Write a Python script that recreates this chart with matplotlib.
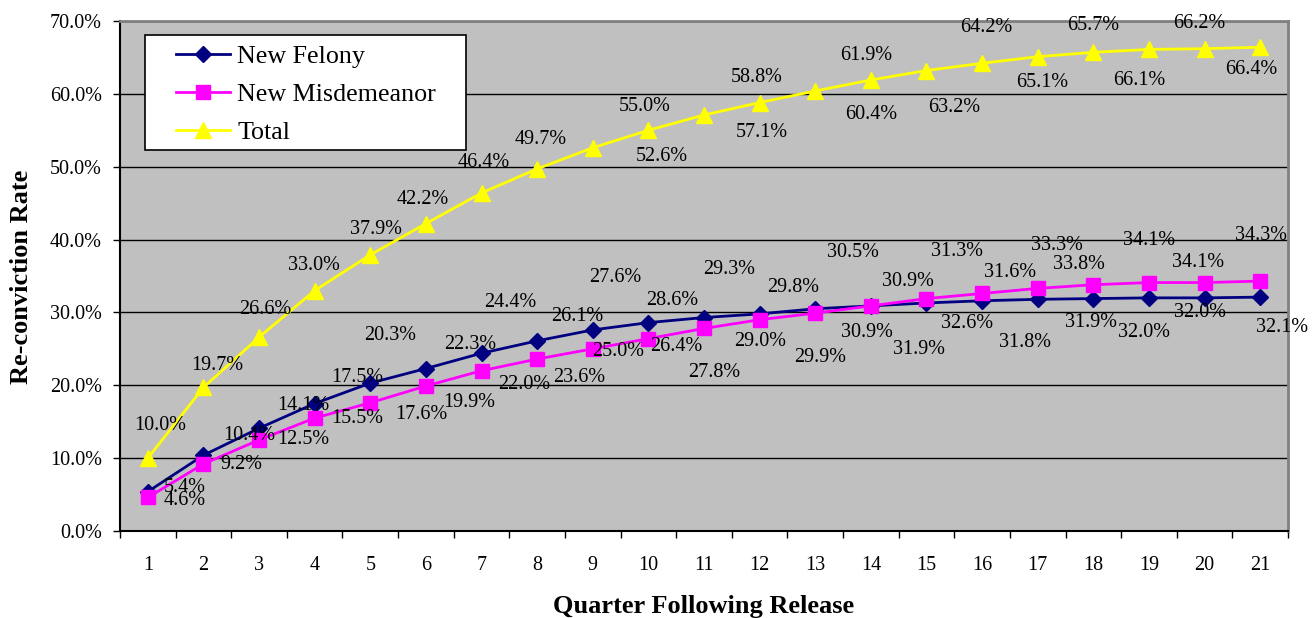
import matplotlib
matplotlib.use("Agg")
import matplotlib.pyplot as plt
from matplotlib.patches import Rectangle
from matplotlib.ticker import FixedLocator
from matplotlib.lines import Line2D

# ---------------- data ----------------
quarters = list(range(1, 22))
felony = [5.4, 10.4, 14.1, 17.5, 20.3, 22.3, 24.4, 26.1, 27.6, 28.6, 29.3,
          29.8, 30.5, 30.9, 31.3, 31.6, 31.8, 31.9, 32.0, 32.0, 32.1]
misdemeanor = [4.6, 9.2, 12.5, 15.5, 17.6, 19.9, 22.0, 23.6, 25.0, 26.4, 27.8,
               29.0, 29.9, 30.9, 31.9, 32.6, 33.3, 33.8, 34.1, 34.1, 34.3]
total = [10.0, 19.7, 26.6, 33.0, 37.9, 42.2, 46.4, 49.7, 52.6, 55.0, 57.1,
         58.8, 60.4, 61.9, 63.2, 64.2, 65.1, 65.7, 66.1, 66.2, 66.4]
series_names = ["New Felony", "New Misdemeanor", "Total"]
y_tick_values = [0, 10, 20, 30, 40, 50, 60, 70]
x_title = "Quarter Following Release"
y_title = "Re-conviction Rate"

# ---------------- label placement (pixels: right, down) ----------------
felony_offsets = [(37, -4), (46, -20), (44, -23), (43, -26), (20, -48), (44, -24),
                  (29, -51), (40, -24), (22, -52), (24, -22), (25, -48), (34, -26),
                  (38, -56), (37, -24), (31, -51), (28, -28), (-13, 43), (-2, 24),
                  (-5, 35), (-5, 15), (22, 30)]
misd_offsets = [(37, 3), (38, 1), (44, 0), (43, 0), (51, 12), (43, 16),
                (43, 14), (42, 18), (25, 3), (28, 8), (10, 44), (1, 22),
                (5, 44), (-4, 27), (-7, 51), (-15, 30), (19, -43), (-14, -20),
                (0, -42), (-7, -20), (1, -46)]
total_offsets = [(12, -33), (14, -22), (6, -28), (-1, -25), (6, -25), (-3, -24),
                 (2, -30), (4, -29), (69, 9), (-4, -24), (58, 18), (-3, -25),
                 (56, 24), (-5, -25), (28, 37), (4, -36), (4, 26), (0, -27),
                 (-10, 31), (-5, -25), (-9, 22)]

W, H = 1312, 618
FONT = "Liberation Serif"
plt.rcParams["font.family"] = [FONT, "DejaVu Serif"]

fig = plt.figure(figsize=(W / 100, H / 100), dpi=100)
fig.patch.set_facecolor("white")
ax = fig.add_axes([120 / W, 1 - 531 / H, (1288 - 120) / W, (531 - 21) / H])
ax.set_facecolor("#C0C0C0")

styles = [
    dict(color="#000080", marker="D", markersize=8.2),
    dict(color="#FF00FF", marker="s", markersize=10.5),
    dict(color="#FFFF00", marker="^", markersize=11),
]
series = [felony, misdemeanor, total]
offsets = [felony_offsets, misd_offsets, total_offsets]

for vals, st, name in zip(series, styles, series_names):
    ax.plot(quarters, vals, color=st["color"], lw=2, marker=st["marker"],
            markersize=st["markersize"], markerfacecolor=st["color"],
            markeredgecolor=st["color"], label=name, zorder=3, clip_on=False)

for vals, offs in zip(series, offsets):
    for q, v, (dx, dy) in zip(quarters, vals, offs):
        ax.annotate(f"{v:.1f}%", (q, v), xytext=(dx, -dy),
                    textcoords="offset pixels", ha="center", va="center",
                    fontsize=14.5, color="black", zorder=10,
                    annotation_clip=False)

ax.set_xlim(0.5, 21.5)
ax.set_ylim(0, 70)
ax.set_yticks(y_tick_values)
ax.set_yticklabels([f"{v:.1f}%" for v in y_tick_values])
ax.set_xticks(quarters)
ax.set_xticklabels([str(q) for q in quarters])
ax.xaxis.set_minor_locator(FixedLocator([q - 0.5 for q in quarters] + [21.5]))
ax.tick_params(axis="x", which="major", length=0, pad=18, labelsize=14.5)
ax.tick_params(axis="x", which="minor", length=5, width=1, direction="out",
               color="black")
ax.tick_params(axis="y", which="major", length=5, width=1, direction="out",
               pad=8, labelsize=14.5, color="black")
ax.yaxis.grid(True, color="black", lw=1)
ax.set_axisbelow(True)

for s in ["left", "bottom"]:
    ax.spines[s].set_color("black")
    ax.spines[s].set_linewidth(1.5)
for s in ["top", "right"]:
    ax.spines[s].set_color("#808080")
    ax.spines[s].set_linewidth(2)

fig.text(22 / W, 1 - 277 / H, y_title, rotation=90, ha="center", va="center",
         fontsize=19, fontweight="bold")
fig.text(704 / W, 1 - 613 / H, x_title, ha="center", va="baseline",
         fontsize=19, fontweight="bold")

# legend
frame = Rectangle((145 / W, 1 - 150 / H), 321 / W, 115 / H,
                  transform=fig.transFigure, facecolor="white",
                  edgecolor="black", lw=1.2, zorder=5)
fig.add_artist(frame)
leg_handles = [Line2D([], [], color=st["color"], lw=2, marker=st["marker"],
                      markersize=st["markersize"], markerfacecolor=st["color"],
                      markeredgecolor=st["color"]) for st in styles]
leg = fig.legend(leg_handles, series_names, loc="upper left",
                 bbox_to_anchor=(176 / W, 1 - 45 / H),
                 bbox_transform=fig.transFigure, frameon=False,
                 borderpad=0, borderaxespad=0, handlelength=2.08,
                 handletextpad=0.27, labelspacing=0.56, numpoints=1,
                 prop={"family": FONT, "size": 18.7})
leg.set_zorder(6)

fig.savefig("out.png", dpi=100)
